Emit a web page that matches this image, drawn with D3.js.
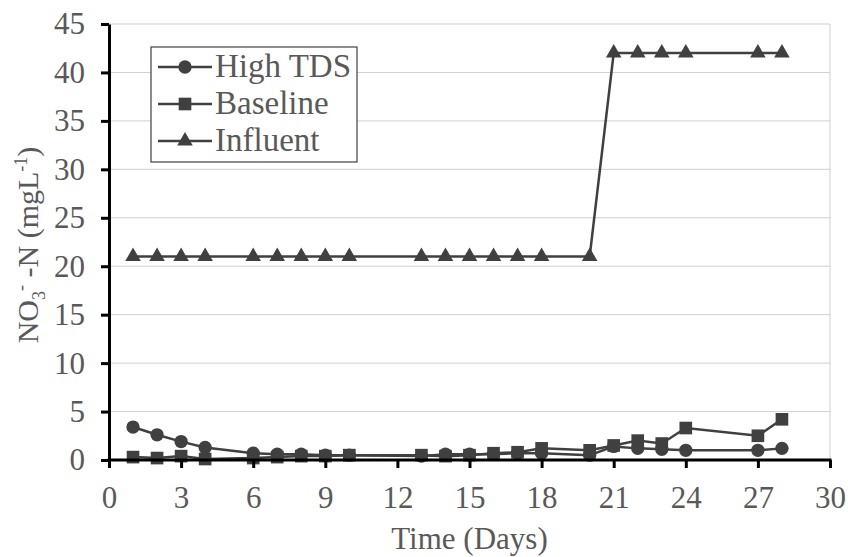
<!DOCTYPE html>
<html>
<head>
<meta charset="utf-8">
<script src="https://cdn.jsdelivr.net/npm/d3@7"></script>
<style>
  body { margin: 0; background: #fff; }
  text { font-family: "Liberation Serif", "Times New Roman", serif; fill: #595959; }
</style>
</head>
<body>
<svg id="chart" width="848" height="557"></svg>
<script>
// days sampled
const days = [1, 2, 3, 4, 6, 7, 8, 9, 10, 13, 14, 15, 16, 17, 18, 20, 21, 22, 23, 24, 27, 28];
const highTDS = [3.4, 2.6, 1.9, 1.3, 0.7, 0.6, 0.6, 0.5, 0.5, 0.4, 0.6, 0.6, 0.6, 0.7, 0.7, 0.5, 1.4, 1.2, 1.1, 1.0, 1.0, 1.2];
const baseline = [0.3, 0.2, 0.4, 0.1, 0.2, 0.3, 0.4, 0.4, 0.5, 0.5, 0.4, 0.5, 0.7, 0.8, 1.2, 1.0, 1.5, 2.0, 1.7, 3.3, 2.5, 4.2];
const influent = [21, 21, 21, 21, 21, 21, 21, 21, 21, 21, 21, 21, 21, 21, 21, 21, 42, 42, 42, 42, 42, 42];
const xTicks = [0, 3, 6, 9, 12, 15, 18, 21, 24, 27, 30];
const yTicks = [0, 5, 10, 15, 20, 25, 30, 35, 40, 45];

const series = [
  { name: "High TDS", values: highTDS, symbol: d3.symbolCircle, size: 140 },
  { name: "Baseline", values: baseline, symbol: d3.symbolSquare, size: 160 },
  { name: "Influent", values: influent, symbol: d3.symbolTriangle, size: 105 }
];

const color = "#404040";
const fontSize = "31px";
const svg = d3.select("#chart");
const margin = { left: 109, right: 18, top: 24, bottom: 97 };
const width = 848 - margin.left - margin.right;
const height = 557 - margin.top - margin.bottom;

const x = d3.scaleLinear().domain([0, 30]).range([margin.left, margin.left + width]);
const y = d3.scaleLinear().domain([0, 45]).range([margin.top + height, margin.top]);

// gridlines
svg.append("g")
  .selectAll("line")
  .data(yTicks.filter((d) => d > 0))
  .join("line")
  .attr("x1", x(0)).attr("x2", x(30))
  .attr("y1", (d) => y(d)).attr("y2", (d) => y(d))
  .attr("stroke", "#d0d0d0").attr("stroke-width", 1);

svg.append("line")
  .attr("x1", x(30)).attr("x2", x(30))
  .attr("y1", y(45)).attr("y2", y(0))
  .attr("stroke", "#d0d0d0").attr("stroke-width", 1);

// series lines and markers
const line = d3.line().x((d) => x(d[0])).y((d) => y(d[1]));

series.forEach((s) => {
  const pts = days.map((d, i) => [d, s.values[i]]);
  svg.append("path")
    .datum(pts)
    .attr("d", line)
    .attr("fill", "none")
    .attr("stroke", color)
    .attr("stroke-width", 2.5);
  svg.append("g")
    .selectAll("path")
    .data(pts)
    .join("path")
    .attr("transform", (d) => `translate(${x(d[0])},${y(d[1])})`)
    .attr("d", d3.symbol().type(s.symbol).size(s.size))
    .attr("fill", color);
});

// axes
const xAxis = svg.append("g")
  .attr("transform", `translate(0,${y(0)})`)
  .call(d3.axisBottom(x).tickValues(xTicks).tickSize(8).tickPadding(18).tickSizeOuter(0));
const yAxis = svg.append("g")
  .attr("transform", `translate(${x(0)},0)`)
  .call(d3.axisLeft(y).tickValues(yTicks).tickSize(8).tickPadding(16).tickSizeOuter(0));

[xAxis, yAxis].forEach((a) => {
  a.select(".domain").attr("stroke", "#000").attr("stroke-width", 3);
  a.selectAll(".tick line").attr("stroke", "#000").attr("stroke-width", 3);
  a.selectAll(".tick text")
    .attr("fill", "#595959")
    .style("font-family", '"Liberation Serif", serif')
    .style("font-size", fontSize);
});
xAxis.select(".domain").attr("d", `M${x(0) - 1.5},0H${x(30) + 1.5}`);

// axis titles
svg.append("text")
  .attr("x", x(15))
  .attr("y", 549)
  .attr("text-anchor", "middle")
  .style("font-size", fontSize)
  .text("Time (Days)");

const yTitle = svg.append("text")
  .attr("transform", `translate(38,${y(22.5) + 3}) rotate(-90)`)
  .attr("text-anchor", "middle")
  .style("font-size", "30px");
yTitle.append("tspan").text("NO");
yTitle.append("tspan").attr("dy", 7).style("font-size", "18px").text("3");
yTitle.append("tspan").attr("dy", -18).style("font-size", "18px").text("-");
yTitle.append("tspan").attr("dy", 11).text(" -N (mgL");
yTitle.append("tspan").attr("dy", -11).style("font-size", "18px").text("-1");
yTitle.append("tspan").attr("dy", 11).text(")");

// legend
const legend = svg.append("g").attr("transform", "translate(151,47)");
legend.append("rect")
  .attr("width", 206).attr("height", 115)
  .attr("fill", "#fff").attr("stroke", "#404040").attr("stroke-width", 1.2);

series.forEach((s, i) => {
  const g = legend.append("g").attr("transform", `translate(0,${20 + i * 37})`);
  g.append("line")
    .attr("x1", 7).attr("x2", 61)
    .attr("stroke", color).attr("stroke-width", 2.5);
  g.append("path")
    .attr("transform", "translate(34,0)")
    .attr("d", d3.symbol().type(s.symbol).size(s.size))
    .attr("fill", color);
  g.append("text")
    .attr("x", 64).attr("y", 10)
    .style("font-size", "33px")
    .text(s.name);
});
</script>
</body>
</html>
